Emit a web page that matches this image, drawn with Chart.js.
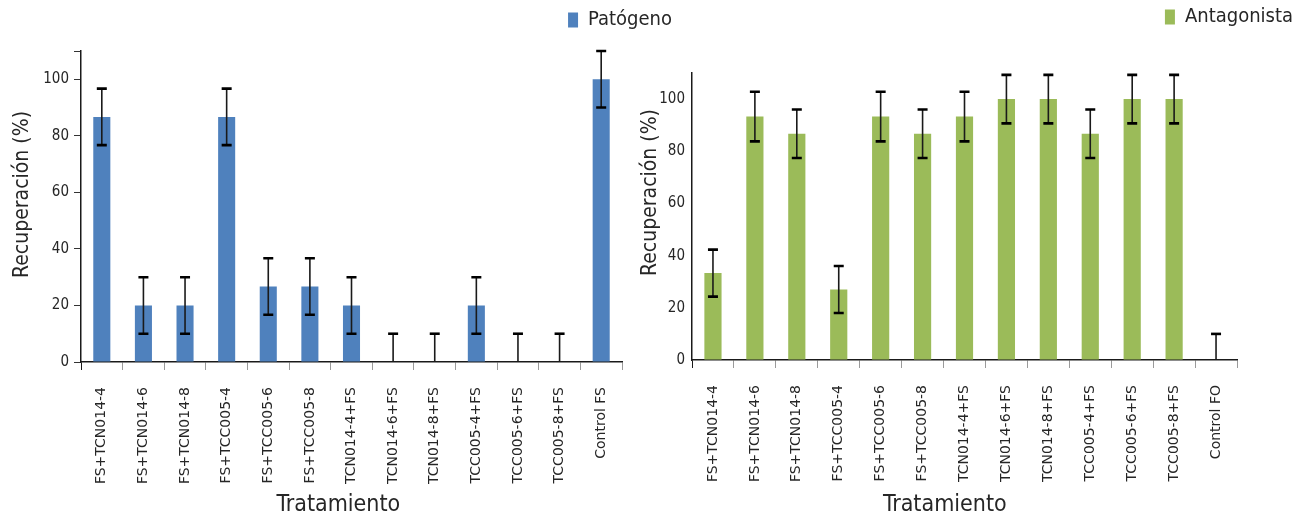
<!DOCTYPE html>
<html>
<head>
<meta charset="utf-8">
<script src="https://cdn.jsdelivr.net/npm/chart.js@4/dist/chart.umd.min.js"></script>
<style>
  body { margin: 0; background: #fff; }
  #wrap { position: relative; width: 1303px; height: 519px; overflow: hidden; }
  #left { position: absolute; left: 0; top: 0; }
  #right { position: absolute; left: 636px; top: 0; }
</style>
</head>
<body>
<div id="wrap">
  <canvas id="left" width="682" height="519"></canvas>
  <canvas id="right" width="664" height="519"></canvas>
</div>
<script>
// data
var tratamientosPat = ["FS+TCN014-4", "FS+TCN014-6", "FS+TCN014-8", "FS+TCC005-4", "FS+TCC005-6", "FS+TCC005-8",
  "TCN014-4+FS", "TCN014-6+FS", "TCN014-8+FS", "TCC005-4+FS", "TCC005-6+FS", "TCC005-8+FS", "Control FS"];
var tratamientosAnt = ["FS+TCN014-4", "FS+TCN014-6", "FS+TCN014-8", "FS+TCC005-4", "FS+TCC005-6", "FS+TCC005-8",
  "TCN014-4+FS", "TCN014-6+FS", "TCN014-8+FS", "TCC005-4+FS", "TCC005-6+FS", "TCC005-8+FS", "Control FO"];
var patogeno = [86.7, 20, 20, 86.7, 26.7, 26.7, 20, 0, 0, 20, 0, 0, 100];
var patogenoErr = [10, 10, 10, 10, 10, 10, 10, 10, 10, 10, 10, 10, 10];
var antagonista = [33.3, 93.3, 86.7, 27, 93.3, 86.7, 93.3, 100, 100, 86.7, 100, 100, 0];
var antagonistaErr = [9, 9.5, 9.3, 9, 9.5, 9.3, 9.5, 9.3, 9.3, 9.3, 9.3, 9.3, 10];
var yTicks = [0, 20, 40, 60, 80, 100];

var FONT = "'DejaVu Sans Condensed', 'DejaVu Sans'";
var LABEL_FONT = "'DejaVu Sans'";
var TEXT = "#262626";

// spaces used to nudge axis titles off centre, like in the original
function sp(n) { return new Array(n + 1).join("\u00a0"); }

// error bars drawn from the y scale
var errorBars = {
  id: "errorBars",
  afterDatasetsDraw: function (chart) {
    var ctx = chart.ctx;
    var y = chart.scales.y;
    chart.data.datasets.forEach(function (ds, i) {
      var meta = chart.getDatasetMeta(i);
      meta.data.forEach(function (bar, j) {
        var v = ds.data[j], e = ds.errors[j];
        var top = y.getPixelForValue(v + e);
        var low = v - e;
        var bot = y.getPixelForValue(Math.max(0, low));
        var x = bar.x;
        ctx.save();
        ctx.strokeStyle = "#1a1a1a";
        ctx.lineWidth = 1.6;
        ctx.beginPath();
        ctx.moveTo(x, top);
        ctx.lineTo(x, bot);
        ctx.stroke();
        ctx.strokeStyle = "#000";
        ctx.lineWidth = 2.6;
        ctx.beginPath();
        ctx.moveTo(x - 5, top);
        ctx.lineTo(x + 5, top);
        if (low > 0) {
          ctx.moveTo(x - 5, bot);
          ctx.lineTo(x + 5, bot);
        }
        ctx.stroke();
        ctx.restore();
      });
    });
  }
};

function makeChart(id, labels, name, values, errs, color, opts) {
  var ctx = document.getElementById(id).getContext("2d");
  return new Chart(ctx, {
    type: "bar",
    data: {
      labels: labels,
      datasets: [
        {
          label: name,
          data: values,
          errors: errs,
          backgroundColor: color,
          borderColor: color,
          borderWidth: 0,
          categoryPercentage: 1,
          barPercentage: 0.41,
        },
      ],
    },
    plugins: [errorBars],
    options: {
      responsive: false,
      animation: false,
      layout: { padding: 0 },
      plugins: {
        legend: {
          position: "top",
          align: "end",
          labels: {
            boxWidth: 10,
            boxHeight: 15,
            padding: opts.legendPad,
            color: TEXT,
            font: { family: FONT, size: 20 },
          },
        },
        tooltip: { enabled: false },
      },
      scales: {
        x: {
          offset: true,
          afterFit: function (s) { s.height = opts.xHeight; },
          grid: {
            drawOnChartArea: false,
            offset: true,
            tickLength: 8,
            color: function (c) { return c.index === 0 ? "#1a1a1a" : "#9a9a9a"; },
          },
          border: { color: "#1a1a1a", width: 1.5 },
          ticks: {
            autoSkip: false,
            maxRotation: 90,
            minRotation: 90,
            padding: 17,
            color: TEXT,
            font: { family: LABEL_FONT, size: 14 },
          },
          title: {
            display: true,
            text: "Tratamiento" + sp(opts.xTitleShift),
            color: TEXT,
            padding: { top: 0, bottom: 0 },
            font: { family: FONT, size: 23 },
          },
        },
        top: {
          type: "linear",
          position: "top",
          afterFit: function (s) { s.height = opts.topGap; },
          grid: { display: false },
          border: { display: false },
          ticks: { display: false },
        },
        y: {
          min: 0,
          max: 110,
          afterFit: function (s) { s.width = opts.yWidth; },
          afterBuildTicks: function (s) {
            s.ticks = yTicks.map(function (v) { return { value: v }; });
            if (opts.topTick) s.ticks.push({ value: 110 });
          },
          grid: {
            drawOnChartArea: false,
            drawTicks: opts.yTicksMarks,
            tickLength: 7,
            color: "#333",
          },
          border: { color: "#1a1a1a", width: 1.5 },
          ticks: {
            padding: opts.yPad,
            color: TEXT,
            font: { family: FONT, size: 15 },
            callback: function (v) { return v > 100 ? "" : v; },
          },
          title: {
            display: true,
            text: sp(opts.yTitleShift) + "Recuperación (%)",
            color: TEXT,
            padding: { top: opts.yTitlePad, bottom: 0 },
            font: { family: FONT, size: 21 },
          },
        },
        y2: {
          type: "linear",
          position: "right",
          afterFit: function (s) { s.width = opts.rightGap; },
          grid: { display: false },
          border: { display: false },
          ticks: { display: false },
        },
      },
    },
  });
}

window.onload = function () {
  makeChart("left", tratamientosPat, "Patógeno", patogeno, patogenoErr, "#4F81BD", {
    xHeight: 157, yWidth: 81, rightGap: 60, topGap: 11, yTitlePad: 10, yPad: 5, yTicksMarks: true, topTick: true,
    legendPad: 10, xTitleShift: 4, yTitleShift: 4,
  });
  makeChart("right", tratamientosAnt, "Antagonista", antagonista, antagonistaErr, "#9BBB59", {
    xHeight: 159, yWidth: 56, rightGap: 63, topGap: 36, yTitlePad: 2, yPad: 7, yTicksMarks: false, topTick: false,
    legendPad: 7, xTitleShift: 6, yTitleShift: 8,
  });
};
</script>
</body>
</html>
